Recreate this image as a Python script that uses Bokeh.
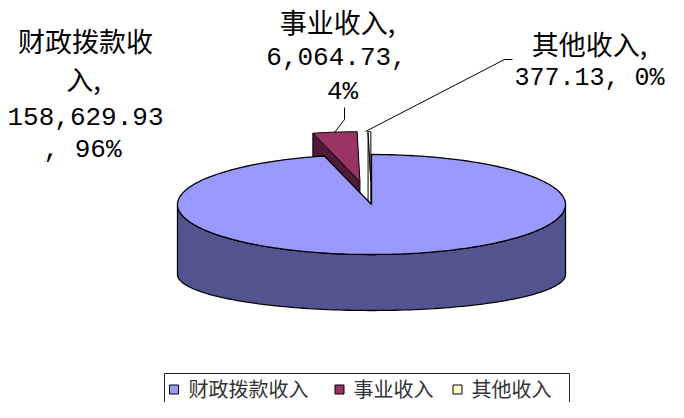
import numpy as np
from bokeh.plotting import figure
from bokeh.models import Range1d
from bokeh.core.properties import value
from bokeh.embed import file_html
from bokeh.resources import INLINE

# ---------------- data ----------------
categories = ["财政拨款收入", "事业收入", "其他收入"]
amounts = [158629.93, 6064.73, 377.13]
amount_labels = ["158,629.93", "6,064.73", "377.13"]
percent_labels = ["96%", "4%", "0%"]
exploded = [False, True, True]
top_colors = ["#9999FF", "#993366", "#FFFFFF"]
side_colors = ["#53538F", "#4F1A36", "#FFFFFF"]
legend_colors = ["#9999FF", "#993366", "#FFFFCC"]

# ---------------- layout ----------------
W, H = 668, 402
p = figure(width=W, height=H, x_range=Range1d(8, 8 + W), y_range=Range1d(8 + H, 8),
           output_backend="svg", toolbar_location=None, min_border=0,
           x_axis_location=None, y_axis_location=None)
p.grid.visible = False
p.outline_line_color = None
p.background_fill_color = "white"
p.border_fill_color = "white"

cx, cy, rx, ry = 379.0, 212.0, 194.0, 50.0     # top ellipse
cyb, ryb = 282.0, 36.0                          # bottom ellipse (perspective)
EXPL = 0.46

vals = np.array(amounts)
fr = vals / vals.sum()
ends = np.cumsum(fr) * 2 * np.pi
starts = ends - fr * 2 * np.pi


def top_pt(t, dx=0.0, dy=0.0):
    return cx + rx * np.sin(t) + dx, cy - ry * np.cos(t) + dy


def bot_pt(t, dx=0.0, dy=0.0):
    return cx + rx * np.sin(t) + dx, cyb - ryb * np.cos(t) + dy * ryb / ry


offsets = []
for i in range(len(vals)):
    if exploded[i]:
        m = (starts[i] + ends[i]) / 2
        offsets.append((rx * EXPL * np.sin(m), -ry * EXPL * np.cos(m)))
    else:
        offsets.append((0.0, 0.0))

# exploded (back) slices first
for i in range(len(vals)):
    if not exploded[i]:
        continue
    dx, dy = offsets[i]
    t1, t2 = starts[i], ends[i]
    ax, ay = cx + dx, cy + dy
    bx, by = cx + dx, cyb + dy * ryb / ry
    r1x, r1y = top_pt(t1, dx, dy)
    b1x, b1y = bot_pt(t1, dx, dy)
    p.patch([ax, r1x, b1x, bx], [ay, r1y, b1y, by], fill_color=side_colors[i],
            line_color="black", line_width=1)
    ts = np.linspace(t1, t2, 30)
    xs, ys = top_pt(ts, dx, dy)
    p.patch(np.r_[ax, xs], np.r_[ay, ys], fill_color=top_colors[i],
            line_color="black", line_width=1)

# main slice: front wall then top
tw = np.linspace(np.pi / 2, 3 * np.pi / 2, 120)
tx, ty = top_pt(tw)
bx_, by_ = bot_pt(tw[::-1])
p.patch(np.r_[tx, bx_], np.r_[ty, by_], fill_color=side_colors[0],
        line_color="black", line_width=1.3)
ts = np.linspace(starts[0], ends[0], 240)
xs, ys = top_pt(ts)
p.patch(np.r_[cx, xs], np.r_[cy, ys], fill_color=top_colors[0],
        line_color="black", line_width=1.3)

# ---------------- leader lines ----------------
m1 = (starts[1] + ends[1]) / 2
lx1, ly1 = top_pt(m1, *offsets[1])
p.line([lx1, 352, 352], [ly1, 127, 115], line_color="black", line_width=1)
m2 = (starts[2] + ends[2]) / 2
lx2, ly2 = top_pt(m2, *offsets[2])
p.line([lx2 - 4, 512, 520], [ly2, 67, 67], line_color="black", line_width=1)

# ---------------- labels ----------------
cjk = dict(text_font=value("Noto Sans CJK SC"), text_font_size="27px",
           text_align="center", text_baseline="middle", text_color="black")
mono = dict(text_font=value("Liberation Mono"), text_font_size="26px",
            text_align="center", text_baseline="middle", text_color="black")

p.text(x=[93, 91, 345, 597], y=[48, 86, 29, 51],
       text=[categories[0][:5], categories[0][5:] + ",", categories[1] + ",", categories[2] + ","], **cjk)
p.text(x=[93, 90, 344, 350], y=[124, 157, 64, 99],
       text=[amount_labels[0], ", " + percent_labels[0], amount_labels[1] + ",",
             percent_labels[1]], **mono)
p.text(x=[597], y=[86], text=[amount_labels[2] + ", " + percent_labels[2]],
       text_font=value("Liberation Mono"), text_font_size="25px",
       text_align="center", text_baseline="middle", text_color="black")

# ---------------- legend ----------------
p.quad(left=[172], right=[577], top=[381], bottom=[418], fill_color="white",
       line_color="#222222", line_width=1)
p.rect(x=[181.5, 347, 465], y=[397, 397, 397], width=9, height=9,
       fill_color=legend_colors, line_color="black", line_width=1)
p.text(x=[196, 361, 479], y=[396, 396, 396], text=categories,
       text_font=value("Noto Sans CJK SC"), text_font_size="20px",
       text_align="left", text_baseline="middle", text_color="#333333")

open("out.html", "w").write(file_html(p, INLINE))
